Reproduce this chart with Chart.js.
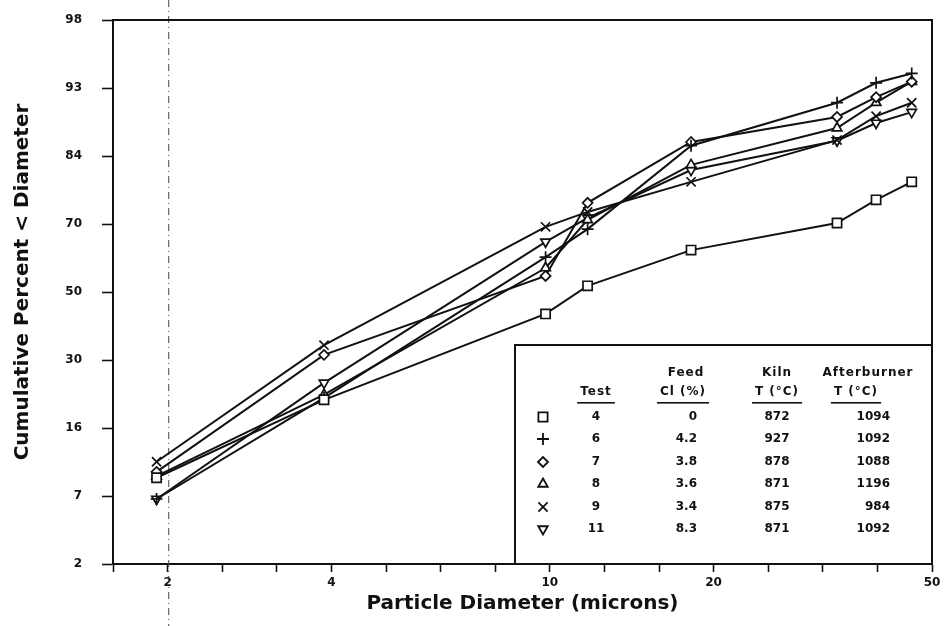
<!DOCTYPE html>
<html>
<head>
<meta charset="utf-8">
<title>Cumulative particle size distribution</title>
<script src="https://cdn.jsdelivr.net/npm/chart.js@4.4.0/dist/chart.umd.min.js"></script>
<style>
    html, body { margin: 0; padding: 0; background: #fff; }
    #wrap { width: 946px; height: 626px; }
</style>
</head>
<body>
<div id="wrap"><canvas id="chart" width="946" height="626"></canvas></div>
<script>
// impactor stage diameters (microns)
const diameters = [1.9, 3.85, 9.8, 11.7, 18.1, 33.5, 39.5, 45.9];

// cumulative percent < diameter for each test
const test4 = [8.6, 21.4, 43.6, 51.8, 62.1, 69.4, 75.1, 79.1];
const test6 = [6.4, 21.8, 60.1, 67.8, 85.9, 91.8, 93.8, 94.6];
const test7 = [9.3, 32.2, 54.7, 74.4, 86.5, 90.1, 92.4, 93.9];
const test8 = [8.8, 22.5, 57.0, 70.2, 82.5, 88.6, 91.8, 93.9];
const test9 = [10.6, 34.8, 68.4, 72.2, 79.1, 86.8, 90.2, 91.8];
const test11 = [6.4, 25.2, 64.4, 70.7, 81.5, 86.7, 89.3, 90.7];

// axis labels
const yTickLabels = ["2", "7", "16", "30", "50", "70", "84", "93", "98"];
const xTickLabels = [2, 4, 10, 20, 50];

// legend table
const tableTests = ["4", "6", "7", "8", "9", "11"];
const tableFeedCl = ["0", "4.2", "3.8", "3.6", "3.4", "8.3"];
const tableKilnT = ["872", "927", "878", "871", "875", "871"];
const tableAfterburnerT = ["1094", "1092", "1088", "1196", "984", "1092"];

const FONT = "'DejaVu Sans', Arial, sans-serif";
const INK = "#111";

/**
 * Inverse of the standard normal cdf (Acklam's approximation),
 * used to put percentages on the probability axis.
 */
function probit(p) {
    const a = [-39.69683028665376, 220.9460984245205, -275.9285104469687, 138.3577518672690, -30.66479806614716, 2.506628277459239];
    const b = [-54.47609879822406, 161.5858368580409, -155.6989798598866, 66.80131188771972, -13.28068155288572];
    const c = [-0.007784894002430293, -0.3223964580411365, -2.400758277161838, -2.549732539343734, 4.374664141464968, 2.938163982698783];
    const d = [0.007784695709041462, 0.3224671290700398, 2.445134137142996, 3.754408661907416];
    const plow = 0.02425;
    let q, r;
    if (p < plow) {
        q = Math.sqrt(-2 * Math.log(p));
        return (((((c[0] * q + c[1]) * q + c[2]) * q + c[3]) * q + c[4]) * q + c[5]) /
            ((((d[0] * q + d[1]) * q + d[2]) * q + d[3]) * q + 1);
    }
    if (p > 1 - plow) {
        q = Math.sqrt(-2 * Math.log(1 - p));
        return -(((((c[0] * q + c[1]) * q + c[2]) * q + c[3]) * q + c[4]) * q + c[5]) /
            ((((d[0] * q + d[1]) * q + d[2]) * q + d[3]) * q + 1);
    }
    q = p - 0.5;
    r = q * q;
    return (((((a[0] * r + a[1]) * r + a[2]) * r + a[3]) * r + a[4]) * r + a[5]) * q /
        (((((b[0] * r + b[1]) * r + b[2]) * r + b[3]) * r + b[4]) * r + 1);
}

// x axis: 1.5 decades ending at 50, tick marks every tenth of a decade
const xMax = 50;
const xMin = xMax / Math.pow(10, 1.5);
const xTickPositions = [];
for (let k = 15; k >= 0; k--) xTickPositions.push(xMax / Math.pow(10, k / 10));

const markerStyles = [
    { pointStyle: "rect", radius: 6.5, rotation: 0 },
    { pointStyle: "cross", radius: 6, rotation: 0 },
    { pointStyle: "rectRot", radius: 5, rotation: 0 },
    { pointStyle: "triangle", radius: 5.5, rotation: 0 },
    { pointStyle: "crossRot", radius: 6.5, rotation: 0 },
    { pointStyle: "triangle", radius: 5.5, rotation: 180 }
];

const makeSeries = (label, values, marker) => ({
    label,
    data: diameters.map((d, i) => ({ x: d, y: probit(values[i] / 100) })),
    showLine: true,
    borderColor: INK,
    borderWidth: 2,
    tension: 0,
    pointStyle: marker.pointStyle,
    pointRadius: marker.radius,
    pointRotation: marker.rotation,
    pointBorderWidth: 1.7,
    pointBorderColor: INK,
    pointBackgroundColor: "#fff"
});

const seriesValues = [test4, test6, test7, test8, test9, test11];
const datasets = seriesValues.map((vals, i) => makeSeries("Test " + tableTests[i], vals, markerStyles[i]));

// frame, fold line, legend table and axis titles
const decorations = {
    id: "decorations",
    beforeDatasetsDraw(chart) {
        const { ctx } = chart;
        const xFold = chart.scales.x.getPixelForValue(2);
        ctx.save();
        ctx.strokeStyle = "#444";
        ctx.lineWidth = 1;
        ctx.setLineDash([7, 4, 1, 4]);
        ctx.beginPath();
        ctx.moveTo(xFold, 0);
        ctx.lineTo(xFold, chart.height);
        ctx.stroke();
        ctx.restore();
    },
    afterDraw(chart) {
        const { ctx, chartArea: a } = chart;
        ctx.save();

        // top and right border of the plot
        ctx.strokeStyle = INK;
        ctx.lineWidth = 2;
        ctx.beginPath();
        ctx.moveTo(a.left, a.top);
        ctx.lineTo(a.right, a.top);
        ctx.lineTo(a.right, a.bottom);
        ctx.stroke();

        // legend table box
        const boxLeft = 515, boxTop = 345;
        ctx.fillStyle = "#fff";
        ctx.fillRect(boxLeft, boxTop, a.right - boxLeft, a.bottom - boxTop);
        ctx.strokeRect(boxLeft, boxTop, a.right - boxLeft, a.bottom - boxTop);

        ctx.fillStyle = INK;
        ctx.textBaseline = "middle";
        ctx.font = "bold 12px " + FONT;
        ctx.letterSpacing = "1px";

        const header = (text, x, y, align, underline) => {
            ctx.textAlign = align;
            ctx.fillText(text, x, y);
            if (underline) {
                const w = ctx.measureText(text).width;
                const x0 = align === "center" ? x - w / 2 : align === "right" ? x - w : x;
                ctx.fillRect(x0 - 3, y + 10, w + 6, 1.6);
            }
        };
        header("Test", 596, 392, "center", true);
        header("Feed", 686, 373, "center", false);
        header("Cl (%)", 683, 392, "center", true);
        header("Kiln", 777, 373, "center", false);
        header("T (°C)", 777, 392, "center", true);
        header("Afterburner", 868, 373, "center", false);
        header("T (°C)", 856, 392, "center", true);

        ctx.letterSpacing = "0px";
        const rowY = [417, 439, 462, 484, 507, 529];
        rowY.forEach((y, i) => {
            const m = markerStyles[i];
            ctx.fillStyle = "#fff";
            ctx.strokeStyle = INK;
            ctx.lineWidth = 1.8;
            Chart.helpers.drawPoint(ctx, {
                pointStyle: m.pointStyle,
                radius: m.radius,
                rotation: m.rotation,
                borderWidth: 1.8
            }, 543, y);
            ctx.fillStyle = INK;
            ctx.textAlign = "center";
            ctx.fillText(tableTests[i], 596, y);
            ctx.textAlign = "right";
            ctx.fillText(tableFeedCl[i], 697, y);
            ctx.textAlign = "center";
            ctx.fillText(tableKilnT[i], 777, y);
            ctx.textAlign = "right";
            ctx.fillText(tableAfterburnerT[i], 890, y);
        });

        // axis titles
        ctx.fillStyle = INK;
        ctx.font = "bold 20px " + FONT;
        ctx.textAlign = "center";
        ctx.fillText("Particle Diameter (microns)", (a.left + a.right) / 2, 604);
        ctx.translate(23, 282);
        ctx.rotate(-Math.PI / 2);
        ctx.fillText("Cumulative Percent < Diameter", 0, 0);
        ctx.restore();
    }
};

new Chart(document.getElementById("chart").getContext("2d"), {
    type: "scatter",
    data: { datasets },
    options: {
        responsive: false,
        animation: false,
        devicePixelRatio: 1,
        layout: { padding: { top: 20, right: 14, left: 0, bottom: 0 } },
        plugins: {
            legend: { display: false },
            tooltip: { enabled: false }
        },
        scales: {
            x: {
                type: "logarithmic",
                min: xMin,
                max: xMax,
                afterBuildTicks: (axis) => {
                    axis.ticks = xTickPositions.map(v => ({ value: v }));
                },
                afterFit: (axis) => { axis.height = 62; },
                ticks: {
                    autoSkip: false,
                    maxRotation: 0,
                    padding: 4,
                    color: INK,
                    font: { family: FONT, size: 12, weight: "bold" },
                    callback: (value) => {
                        const hit = xTickLabels.find(l => Math.abs(Math.log10(value / l)) < 0.01);
                        return hit === undefined ? "" : String(hit);
                    }
                },
                grid: {
                    drawOnChartArea: false,
                    drawTicks: true,
                    tickLength: 8,
                    tickWidth: 1.6,
                    tickColor: INK
                },
                border: { display: true, color: INK, width: 2 }
            },
            y: {
                type: "linear",
                min: -2,
                max: 2,
                afterFit: (axis) => {
                    axis.width = 113;
                    axis.paddingTop = 0;
                    axis.paddingBottom = 0;
                },
                ticks: {
                    stepSize: 0.5,
                    padding: 20,
                    color: INK,
                    font: { family: FONT, size: 12, weight: "bold" },
                    callback: (value, index) => yTickLabels[index]
                },
                grid: {
                    drawOnChartArea: false,
                    drawTicks: true,
                    tickLength: 11,
                    tickWidth: 1.6,
                    tickColor: INK
                },
                border: { display: true, color: INK, width: 2 }
            }
        }
    },
    plugins: [decorations]
});
</script>
</body>
</html>
